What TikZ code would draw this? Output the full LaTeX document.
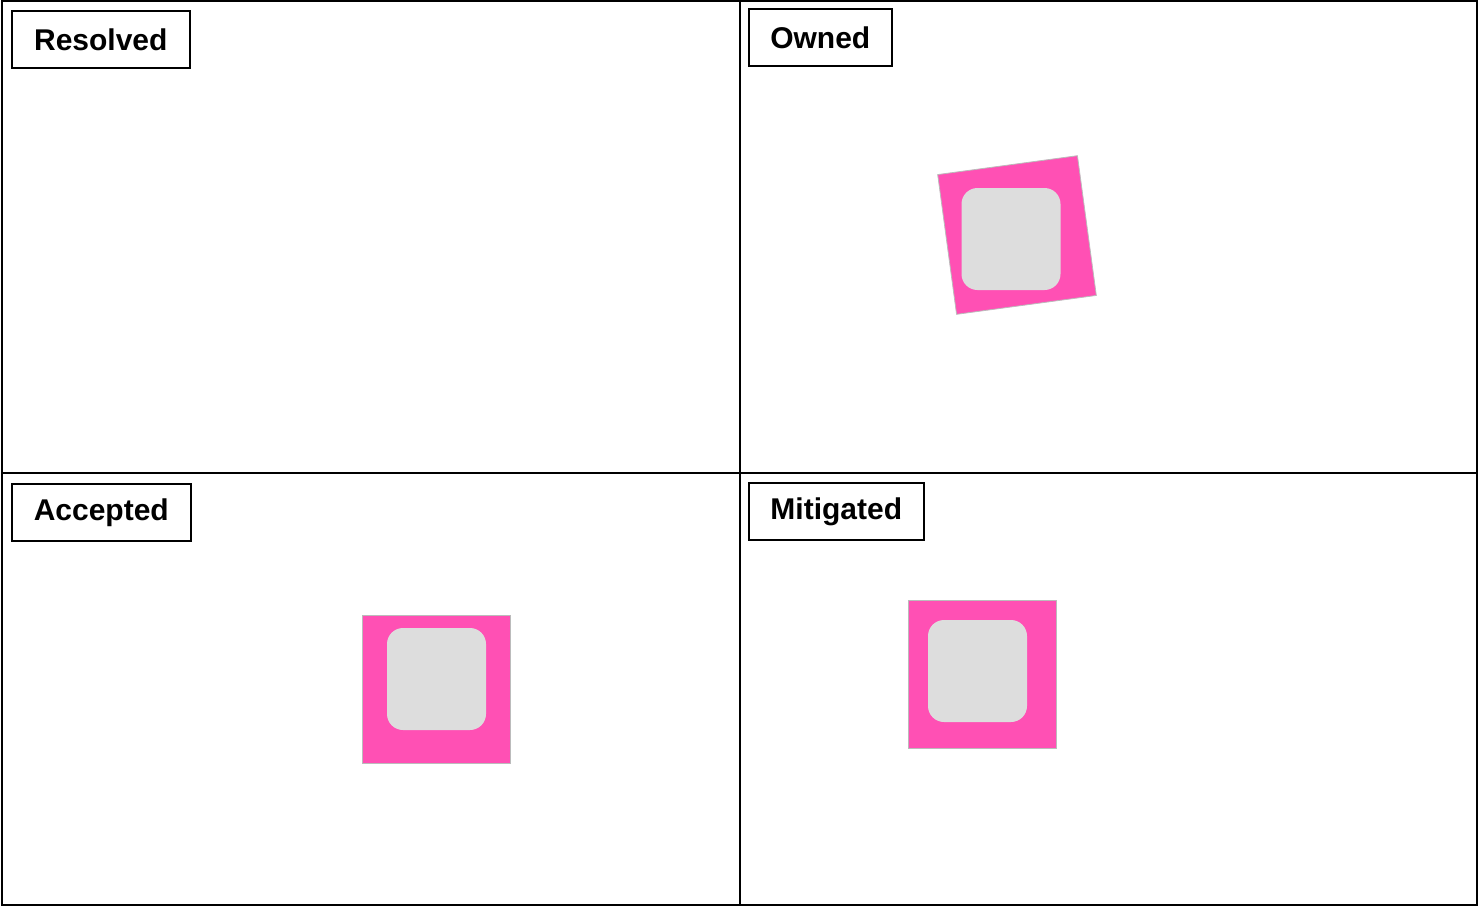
\documentclass[tikz,border=0pt]{standalone}
\usepackage{fontspec}
\setmainfont{Liberation Sans}
\definecolor{mPink}{HTML}{FF50B4}
\definecolor{mGrey}{HTML}{DDDDDD}
\definecolor{mEdge}{HTML}{BBBBBB}
\usepackage{tikz}
\usetikzlibrary{positioning}

\begin{document}
\begin{tikzpicture}[x=1pt, y=-1pt,
  quadlabel/.style={draw, line width=1.6pt, anchor=north west, minimum height=57pt, inner sep=0pt, font=\fontsize{30}{32}\selectfont\bfseries},
  sticky/.style={draw=mEdge, fill=mPink, line width=0.8pt, minimum size=148pt, inner sep=0pt},
  redact/.style={fill=mGrey, rounded corners=16pt, minimum width=99pt, minimum height=102pt, inner sep=0pt}]
\useasboundingbox (0,0) rectangle (1480,906);
% board
\draw[line width=1.6pt] (2,1) rectangle (1477,905);
\draw[line width=1.6pt] (740,1) -- (740,905);
\draw[line width=1.6pt] (2,473) -- (1477,473);
% quadrant labels
\node[quadlabel, minimum width=178pt] (resolved) at (11,10) {\raisebox{-1.5pt}{Resolved}};
\node[quadlabel, minimum width=143pt] (owned) at (748,8) {\raisebox{-1.5pt}{Owned}};
\node[quadlabel, minimum width=179pt] (accepted) at (11,483) {\raisebox{-1.5pt}{Accepted}};
\node[quadlabel, minimum width=175pt] (mitigated) at (748,482) {\raisebox{-1.5pt}{Mitigated}};
% sticky notes
\node[sticky, minimum size=141pt, rotate=7.7] (ownedNote) at (1017,235) {};
\node[redact] (ownedHide) at (1011,239) {};
\node[sticky] (acceptedNote) at (436.5,689) {};
\node[redact] (acceptedHide) at (436.5,679) {};
\node[sticky] (mitigatedNote) at (982.5,674) {};
\node[redact] (mitigatedHide) at (977.5,671) {};
\end{tikzpicture}
\end{document}
